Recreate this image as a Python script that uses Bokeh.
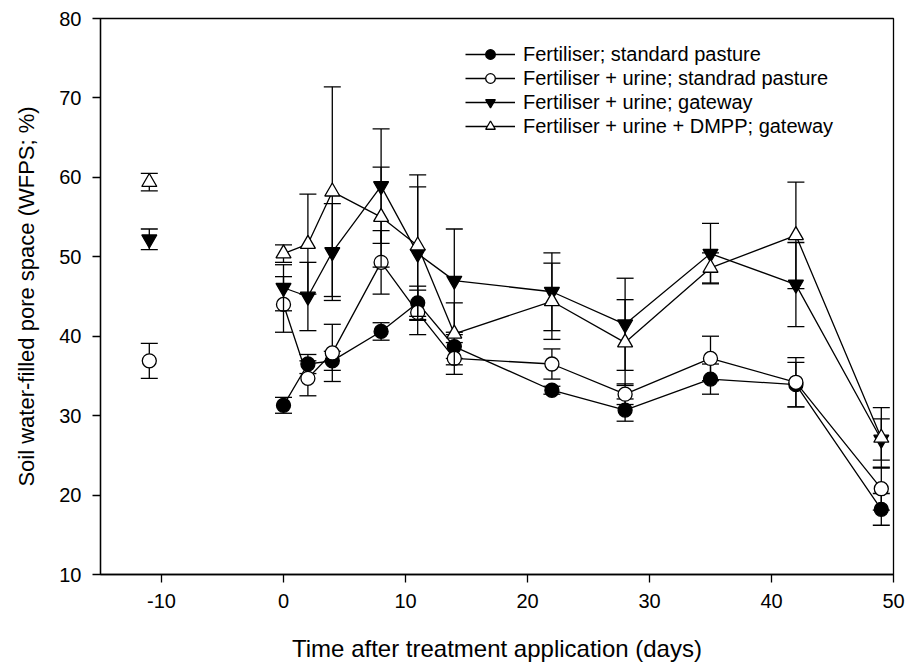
from bokeh.plotting import figure
from bokeh.models import Range1d, FixedTicker, Legend, LegendItem
from bokeh.embed import file_html
from bokeh.resources import INLINE

# ---- data ----
days_fert = [0, 2, 4, 8, 11, 14, 22, 28, 35, 42, 49]
fert = [31.3, 36.5, 36.9, 40.6, 44.2, 38.7, 33.2, 30.7, 34.6, 33.9, 18.2]
fert_err = [1.0, 1.2, 1.2, 1.1, 2.1, 1.5, 0.5, 1.4, 1.9, 2.8, 2.0]

days = [-11, 0, 2, 4, 8, 11, 14, 22, 28, 35, 42, 49]
urine = [36.9, 44.0, 34.7, 37.9, 49.3, 43.0, 37.2, 36.5, 32.7, 37.2, 34.2, 20.8]
urine_err = [2.2, 3.5, 2.2, 3.6, 4.0, 2.8, 2.0, 1.9, 1.3, 2.8, 3.1, 2.7]

gate = [52.2, 46.1, 45.0, 50.6, 58.9, 50.4, 47.0, 45.6, 41.5, 50.4, 46.5, 27.0]
gate_err = [1.3, 2.9, 4.3, 6.1, 7.2, 8.4, 6.5, 4.9, 5.8, 3.8, 5.3, 2.6]

dmpp = [59.4, 50.4, 51.6, 58.2, 55.0, 51.4, 40.3, 44.4, 39.2, 48.6, 52.7, 27.2]
dmpp_err = [1.1, 1.1, 6.3, 13.2, 6.3, 8.9, 3.9, 4.8, 5.4, 1.9, 6.7, 3.8]

labels = ["Fertiliser; standard pasture",
          "Fertiliser + urine; standrad pasture",
          "Fertiliser + urine; gateway",
          "Fertiliser + urine + DMPP; gateway"]

x_ticks = [-10, 0, 10, 20, 30, 40, 50]
x_tick_labels = ["-10", "0", "10", "20", "30", "40", "50"]
y_ticks = [10, 20, 30, 40, 50, 60, 70, 80]

FONT = "Liberation Sans"
LW = 1.3

p = figure(width=917, height=664, output_backend="svg", toolbar_location=None,
           x_range=Range1d(-15, 50), y_range=Range1d(10, 80),
           min_border_left=100, min_border_right=24, min_border_top=18,
           min_border_bottom=90)
p.xgrid.visible = False
p.ygrid.visible = False
p.outline_line_color = "black"
p.outline_line_width = LW
p.background_fill_color = "white"
p.border_fill_color = "white"

for ax, ticks in ((p.xaxis[0], x_ticks), (p.yaxis[0], y_ticks)):
    ax.ticker = FixedTicker(ticks=ticks)
    ax.minor_tick_line_color = None
    ax.major_tick_out = 8
    ax.major_tick_in = 0
    ax.major_tick_line_width = LW
    ax.axis_line_width = LW
    ax.axis_line_color = "black"
    ax.major_tick_line_color = "black"
    ax.major_label_text_font = FONT
    ax.major_label_text_font_size = "20px"
    ax.major_label_text_color = "black"
    ax.axis_label_text_font = FONT
    ax.axis_label_text_font_style = "normal"
    ax.axis_label_text_color = "black"

p.xaxis.major_label_overrides = {t: s for t, s in zip(x_ticks, x_tick_labels)}
p.xaxis.axis_label = "Time after treatment application (days)"
p.yaxis.axis_label = "Soil water-filled pore space (WFPS; %)"
p.xaxis.axis_label_text_font_size = "24px"
p.yaxis.axis_label_text_font_size = "22px"
p.xaxis.major_label_standoff = 11
p.yaxis.major_label_standoff = 11
p.xaxis.axis_label_standoff = 24
p.yaxis.axis_label_standoff = 17

series = [
    (days_fert, fert, fert_err, "circle", "black", False),
    (days, urine, urine_err, "circle", "white", True),
    (days, gate, gate_err, "inverted_triangle", "black", True),
    (days, dmpp, dmpp_err, "triangle", "white", True),
]

items = []
for (xs, ys, es, marker, fill, skip_first), lab in zip(series, labels):
    lo = [y - e for y, e in zip(ys, es)]
    hi = [y + e for y, e in zip(ys, es)]
    p.segment(x0=xs, y0=lo, x1=xs, y1=hi, line_color="black", line_width=LW)
    p.scatter(xs, lo, marker="dash", size=17, line_color="black", line_width=LW)
    p.scatter(xs, hi, marker="dash", size=17, line_color="black", line_width=LW)
    start = 1 if skip_first else 0
    lr = p.line(xs[start:], ys[start:], line_color="black", line_width=LW)
    size = 14 if marker == "circle" else 15
    mr = p.scatter(xs, ys, marker=marker, size=size, fill_color=fill,
                   line_color="black", line_width=LW)
    items.append(LegendItem(label=lab, renderers=[lr, mr]))

legend = Legend(items=items, location=(365, 436), orientation="vertical",
                glyph_width=50, glyph_height=24, label_height=24,
                label_standoff=8, spacing=0, padding=0, margin=0,
                border_line_color=None, background_fill_alpha=0,
                label_text_font=FONT, label_text_font_size="20px",
                label_text_color="black")
p.add_layout(legend, "center")

open("out.html", "w").write(file_html(p, INLINE))
